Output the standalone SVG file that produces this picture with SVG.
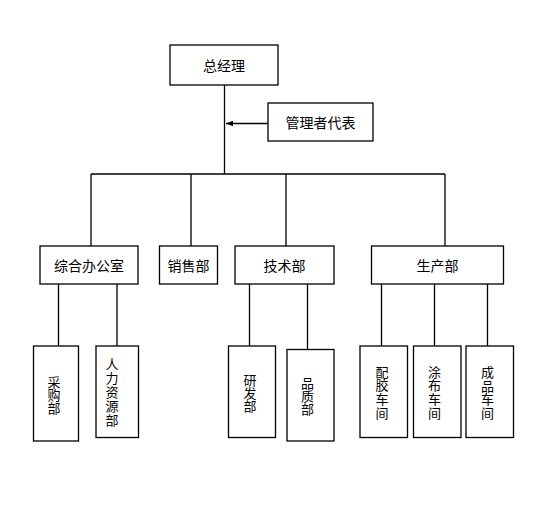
<svg xmlns="http://www.w3.org/2000/svg" width="540" height="511" viewBox="0 0 540 511">
<defs>
<style>
.box{fill:#fff;stroke:#000;stroke-width:1.3}
.ln{fill:none;stroke:#000;stroke-width:1.3}
text{font-family:"Noto Sans CJK SC","Noto Sans",sans-serif;font-size:14px;fill:#000;text-anchor:middle;dominant-baseline:central}
.v{font-size:13px;writing-mode:vertical-rl;text-orientation:upright}
</style>
<marker id="ah" viewBox="0 0 10 10" refX="10" refY="5" markerWidth="7" markerHeight="7" orient="auto" markerUnits="userSpaceOnUse">
<path d="M0,1 L10,5 L0,9 Z" fill="#000"/>
</marker>
</defs>
<rect width="540" height="511" fill="#fff"/>
<g id="connectors">
<path class="ln" d="M224.5,85 V174"/>
<path class="ln" d="M268,123.5 H226" marker-end="url(#ah)"/>
<path class="ln" d="M91,174 H445"/>
<path class="ln" d="M91,174 V246 M191,174 V246 M286,174 V246 M445,174 V246"/>
<path class="ln" d="M58.5,284 V346 M117,284 V346"/>
<path class="ln" d="M249.5,284 V346 M307.5,284 V349"/>
<path class="ln" d="M381.5,284 V346 M434.5,284 V346 M487.5,284 V346"/>
</g>
<g id="n-zjl"><rect class="box" x="170" y="45" width="108" height="40"/><text x="224" y="65">总经理</text></g>
<g id="n-glzdb"><rect class="box" x="268" y="103" width="105" height="38"/><text x="320.5" y="122">管理者代表</text></g>
<g id="n-zhbgs"><rect class="box" x="40" y="246" width="98" height="38"/><text x="89" y="265">综合办公室</text></g>
<g id="n-xsb"><rect class="box" x="159.5" y="246" width="58" height="38"/><text x="188.5" y="265">销售部</text></g>
<g id="n-jsb"><rect class="box" x="235" y="246" width="99" height="38"/><text x="284.5" y="265">技术部</text></g>
<g id="n-scb"><rect class="box" x="371.5" y="246" width="132" height="38"/><text x="437.5" y="265">生产部</text></g>
<g id="n-cgb"><rect class="box" x="33.5" y="346" width="45" height="95"/><text class="v" x="54" y="395">采购部</text></g>
<g id="n-rlzyb"><rect class="box" x="96" y="346" width="42.5" height="91.5"/><text class="v" x="112" y="392.5" style="letter-spacing:0.8px">人力资源部</text></g>
<g id="n-yfb"><rect class="box" x="228.5" y="346" width="47" height="91.5"/><text class="v" x="250" y="393">研发部</text></g>
<g id="n-pzb"><rect class="box" x="287" y="349.5" width="47" height="91.5"/><text class="v" x="307.5" y="396">品质部</text></g>
<g id="n-pjcj"><rect class="box" x="360" y="346" width="47.5" height="91.5"/><text class="v" x="382" y="392.5" style="letter-spacing:0.7px">配胶车间</text></g>
<g id="n-tbcj"><rect class="box" x="413.5" y="346" width="47.5" height="91.5"/><text class="v" x="434.5" y="392.5" style="letter-spacing:0.7px">涂布车间</text></g>
<g id="n-cpcj"><rect class="box" x="466" y="346" width="47.5" height="91.5"/><text class="v" x="487.5" y="393" style="letter-spacing:0.7px">成品车间</text></g>
</svg>
